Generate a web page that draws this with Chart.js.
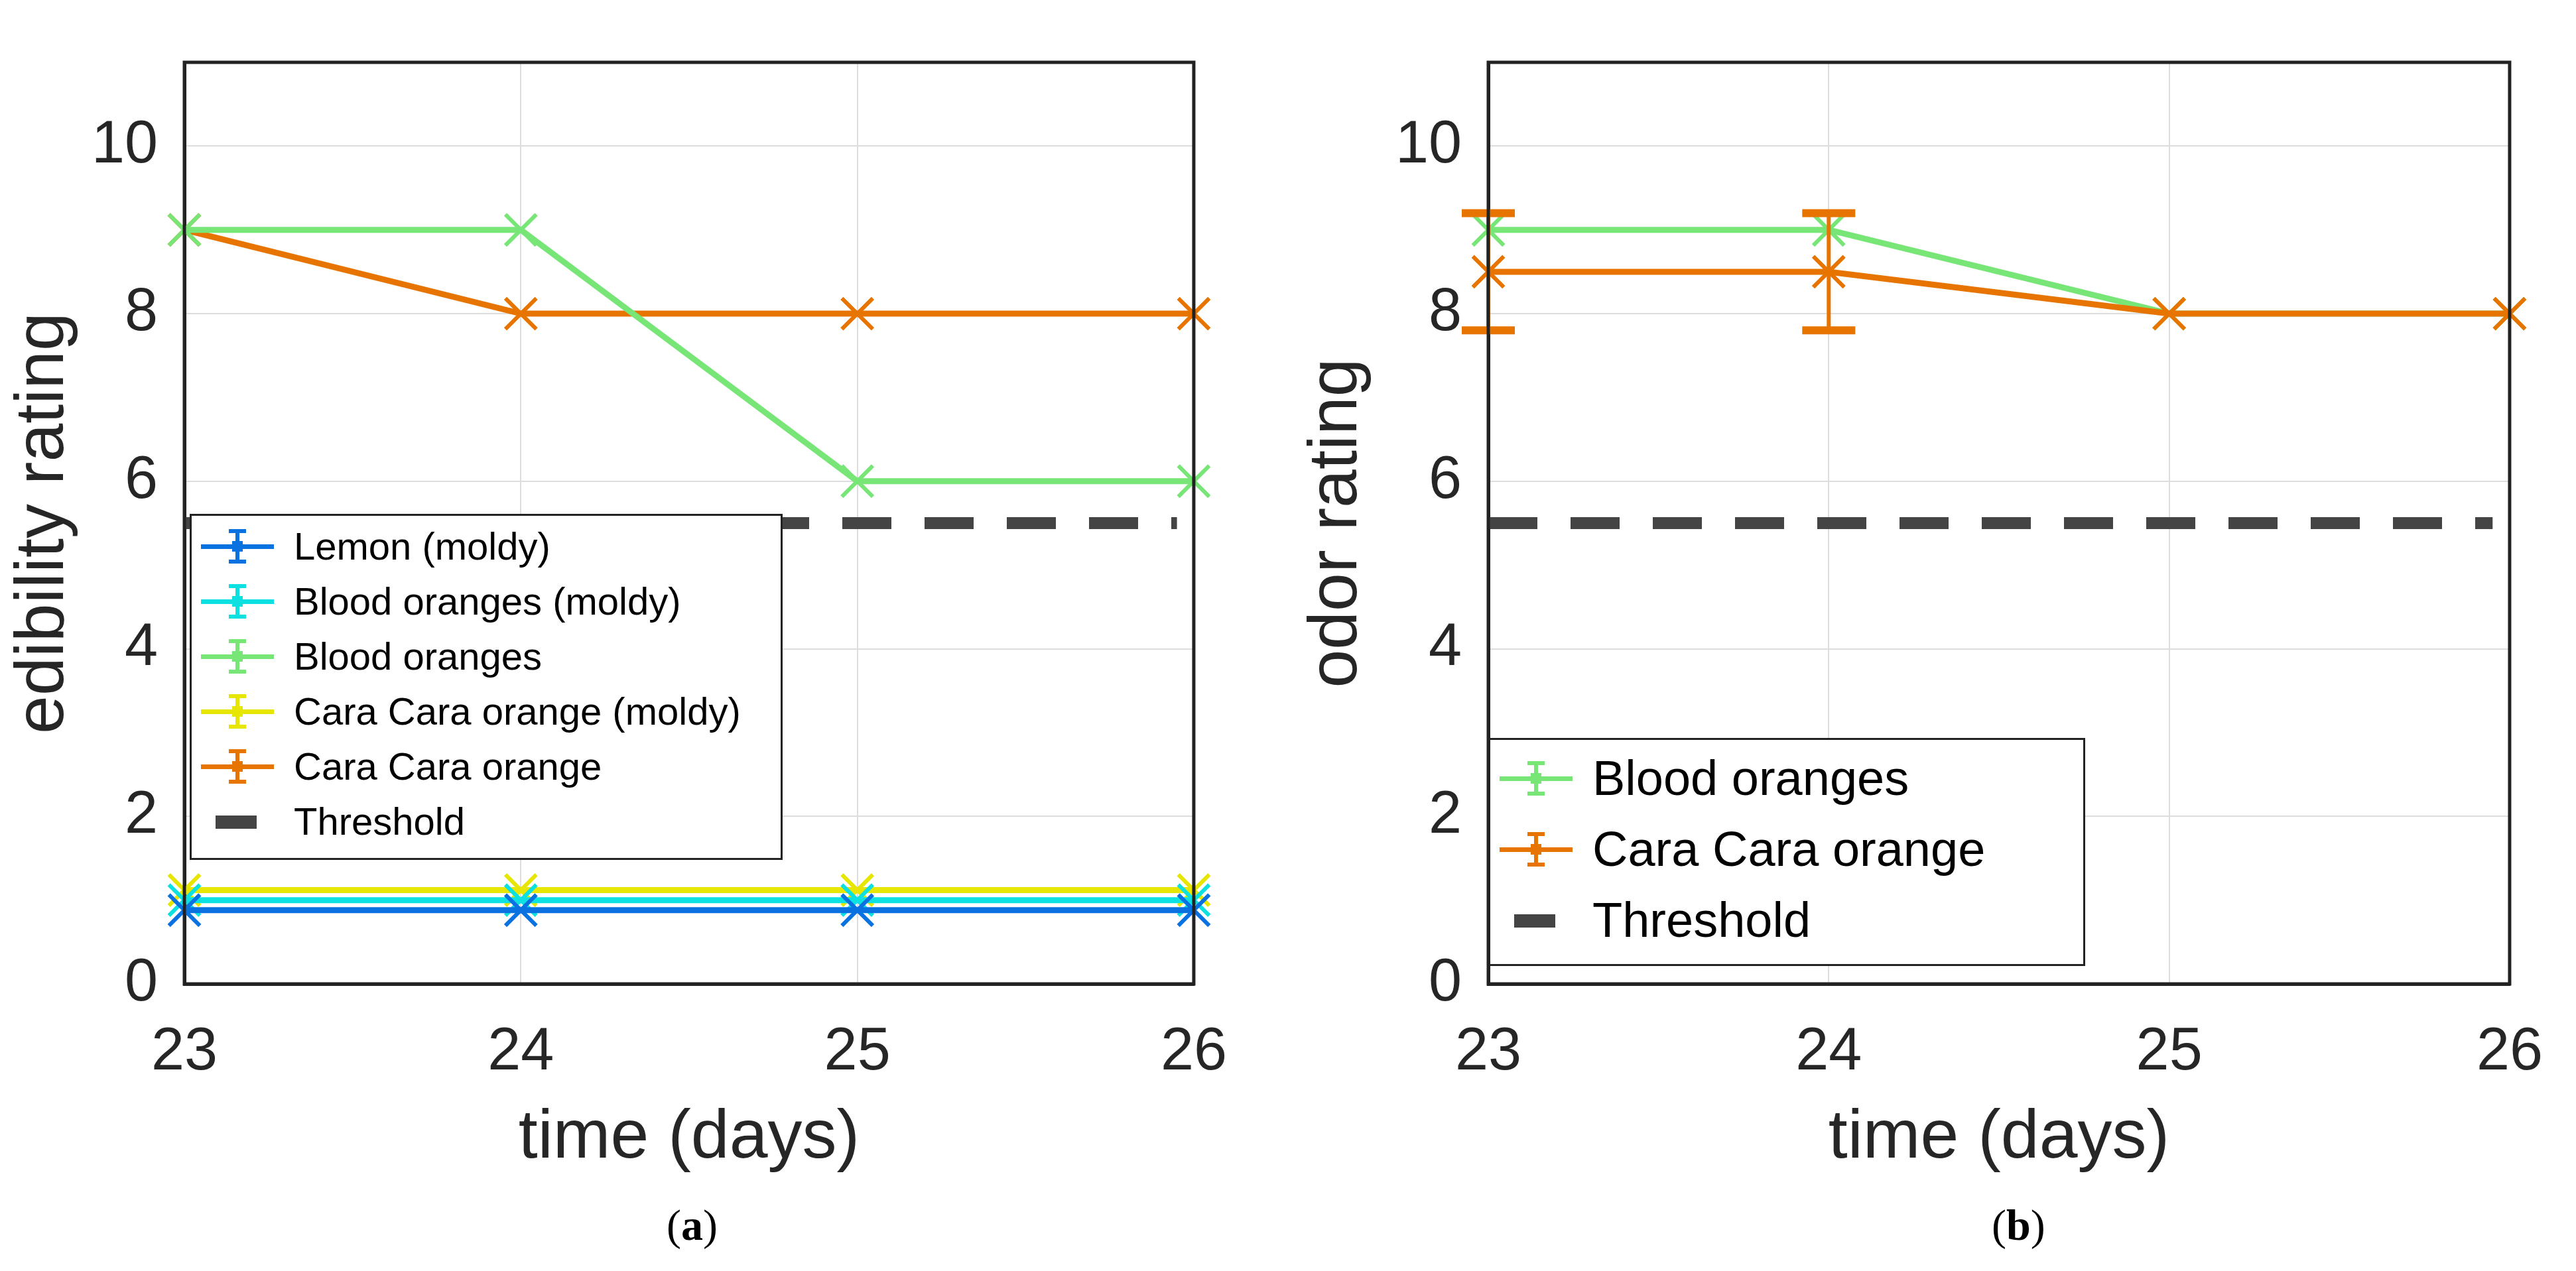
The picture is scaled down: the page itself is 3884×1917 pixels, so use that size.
<!DOCTYPE html>
<html><head><meta charset="utf-8">
<script src="https://cdn.jsdelivr.net/npm/chart.js@4.4.0/dist/chart.umd.min.js"></script>
<style>
body{margin:0;background:#fff;width:3884px;height:1917px;position:relative;overflow:hidden;font-family:"Liberation Sans",Arial,sans-serif}
.w{position:absolute;top:0;height:1917px}
.cap{position:absolute;font-family:"Liberation Serif",serif;font-size:66px;color:#000}
.leg{position:absolute;border:3px solid #222;background:#fff;color:#000}
.leg div{display:flex;align-items:center;white-space:nowrap}
.sw{display:inline-block;position:relative;margin-right:30px}
</style></head><body>
<div class="w" style="left:0;width:1900px"><canvas id="c1"></canvas></div>
<div class="w" style="left:1950px;width:1934px"><canvas id="c2"></canvas></div>
<div class="cap" style="left:1005px;top:1810px">(<b>a</b>)</div>
<div class="cap" style="left:3003px;top:1810px">(<b>b</b>)</div>
<div id="l1" class="leg" style="left:286px;top:775px;width:888px;height:508px;font-size:58px;padding:4px 0"></div>
<div id="l2" class="leg" style="left:2244px;top:1113px;width:894px;height:330px;font-size:74px;padding:4px 0"></div>
<script>
const days=[23,24,25,26];
const lemonMoldy=[0.88,0.88,0.88,0.88];
const bloodMoldy=[1.0,1.0,1.0,1.0];
const bloodA=[9,9,6,6];
const caraMoldy=[1.12,1.12,1.12,1.12];
const caraA=[9,8,8,8];
const threshold=[5.5,5.5];
const bloodB=[9,9,8,8];
const caraB=[8.5,8.5,8,8];
const caraBErr=[0.7,0.7,0,0];
const bloodBErr=[0,0,0,0];
const yTicks=[0,2,4,6,8,10];

const C={lemon:'#0a72e0',bm:'#0de0e0',blood:'#77e677',cm:'#e6e600',cara:'#e87400',th:'#444444'};
const pts=(arr)=>days.map((d,i)=>({x:d,y:arr[i]}));
function ds(label,arr,color,err,order){
  return {label,data:pts(arr),borderColor:color,backgroundColor:color,borderWidth:9,order:order||0,
    pointStyle:'crossRot',pointRadius:33,pointBorderWidth:6,pointHoverRadius:33,err};
}
function thr(xmin,xmax){return {label:'Threshold',order:5,data:[{x:xmin,y:threshold[0]},{x:xmax,y:threshold[1]}],borderColor:C.th,borderWidth:18,borderDash:[74,50],pointRadius:0};}
const errPlugin={id:'err',afterDatasetsDraw(ch){
  const ctx=ch.ctx,xs=ch.scales.x,ys=ch.scales.y;
  ch.data.datasets.forEach(d=>{ if(!d.err) return;
    d.data.forEach((p,i)=>{const e=d.err[i]; if(!e) return;
      const x=xs.getPixelForValue(p.x),y1=ys.getPixelForValue(p.y-e),y2=ys.getPixelForValue(p.y+e);
      ctx.save();ctx.strokeStyle=d.borderColor;ctx.lineWidth=6;ctx.beginPath();
      ctx.moveTo(x,y1);ctx.lineTo(x,y2);ctx.stroke();ctx.lineWidth=12;ctx.beginPath();
      ctx.moveTo(x-40,y1);ctx.lineTo(x+40,y1);ctx.moveTo(x-40,y2);ctx.lineTo(x+40,y2);ctx.stroke();ctx.restore();});});
}};
function opts(ytitle,yw,pr){
  return {responsive:true,maintainAspectRatio:false,animation:false,
    layout:{padding:{top:12,right:pr,bottom:133,left:0}},
    plugins:{legend:{display:false},tooltip:{enabled:false}},
    scales:{
      x:{type:'linear',min:23,max:26,afterBuildTicks:a=>{a.ticks=days.map(v=>({value:v}));},
        grid:{color:'#dddddd',lineWidth:2,drawTicks:false},border:{color:'#222',width:5},
        ticks:{color:'#262626',font:{size:90,family:'Liberation Sans'},padding:50},
        title:{display:true,text:'time (days)',color:'#262626',font:{size:104,family:'Liberation Sans'},padding:{top:20}},
        afterFit:s=>{s.height=300;}},
      y:{min:0,max:11,afterBuildTicks:a=>{a.ticks=yTicks.map(v=>({value:v}));},
        grid:{color:'#dddddd',lineWidth:2,drawTicks:false},border:{color:'#222',width:5},
        ticks:{color:'#262626',font:{size:90,family:'Liberation Sans'},padding:40},
        title:{display:true,text:ytitle,color:'#262626',font:{size:104,family:'Liberation Sans'},padding:{bottom:10}},
        afterFit:s=>{s.width=yw;}}
    }};
}
const frame={id:'frame',afterDraw(ch){const a=ch.chartArea,c=ch.ctx;c.save();c.strokeStyle='#222';c.lineWidth=5;c.strokeRect(a.left,a.top,a.right-a.left,a.bottom-a.top);c.restore();}};
const d1=[ds('Lemon (moldy)',lemonMoldy,C.lemon),ds('Blood oranges (moldy)',bloodMoldy,C.bm),ds('Blood oranges',bloodA,C.blood),
  ds('Cara Cara orange (moldy)',caraMoldy,C.cm),ds('Cara Cara orange',caraA,C.cara),thr(23,25.95)];
d1.forEach(d=>d.clip=false);
new Chart(document.getElementById('c1'),{type:'line',data:{datasets:d1},options:opts('edibility rating',278,93),plugins:[frame,errPlugin]});
const d2=[ds('Blood oranges',bloodB,C.blood,bloodBErr,2),ds('Cara Cara orange',caraB,C.cara,caraBErr,1),thr(23,25.95)];
d2.forEach(d=>d.clip=false);
new Chart(document.getElementById('c2'),{type:'line',data:{datasets:d2},options:opts('odor rating',294,64),plugins:[frame,errPlugin]});
function legend(id,items,sz){
  const el=document.getElementById(id);
  items.forEach(([t,c,th])=>{const r=document.createElement('div');r.style.height=sz+'px';
    const s=document.createElement('span');s.className='sw';s.style.width='110px';s.style.height='40px';s.style.marginLeft='14px';
    s.innerHTML=th?`<span style="position:absolute;left:22px;top:11px;width:62px;height:20px;background:${c}"></span>`:
     `<span style="position:absolute;left:0;top:17px;width:110px;height:7px;background:${c}"></span><span style="position:absolute;left:52px;top:-6px;width:6px;height:52px;background:${c}"></span><span style="position:absolute;left:42px;top:-6px;width:26px;height:6px;background:${c}"></span><span style="position:absolute;left:42px;top:40px;width:26px;height:6px;background:${c}"></span><span style="position:absolute;left:47px;top:12px;width:16px;height:16px;background:${c}"></span>`;
    r.appendChild(s);r.appendChild(document.createTextNode(t));el.appendChild(r);});
}
legend('l1',[['Lemon (moldy)',C.lemon],['Blood oranges (moldy)',C.bm],['Blood oranges',C.blood],['Cara Cara orange (moldy)',C.cm],['Cara Cara orange',C.cara],['Threshold',C.th,1]],83);
legend('l2',[['Blood oranges',C.blood],['Cara Cara orange',C.cara],['Threshold',C.th,1]],107);
</script></body></html>
